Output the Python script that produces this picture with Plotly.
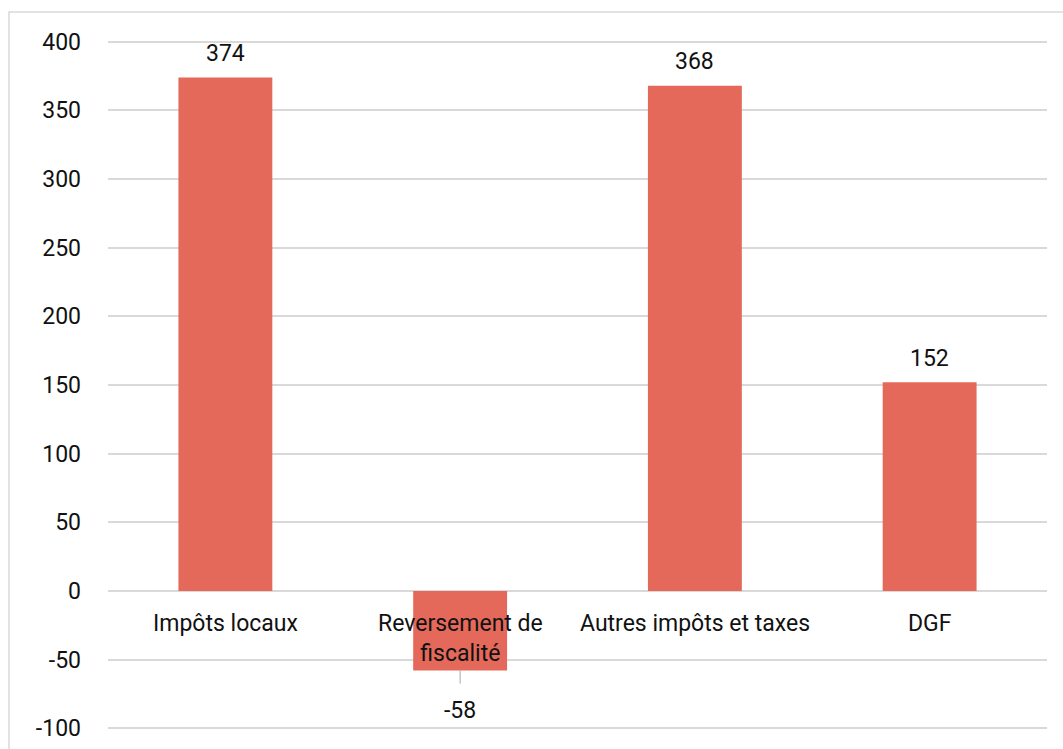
import plotly.graph_objects as go

categories = ["Impôts locaux", "Reversement de<br>fiscalité", "Autres impôts et taxes", "DGF"]
values = [374, -58, 368, 152]
y_ticks = [-100, -50, 0, 50, 100, 150, 200, 250, 300, 350, 400]
y_tick_labels = [str(v) for v in y_ticks]

FONT = "Roboto"
BAR = "#E5695A"
GRID = "#D9D9D9"
TXT = "#111111"
FS = 23

x_idx = list(range(len(categories)))

fig = go.Figure()
fig.add_trace(go.Bar(x=x_idx, y=values, marker=dict(color=BAR, line=dict(width=0)),
                     width=0.4, hoverinfo="skip"))

annotations = []
for i, (c, v) in enumerate(zip(categories, values)):
    annotations.append(dict(x=i, y=0, xref="x", yref="y", text=c, showarrow=False,
                            yanchor="top", yshift=-17,
                            font=dict(family=FONT, size=FS, color=TXT)))
    if v >= 0:
        annotations.append(dict(x=i, y=v, xref="x", yref="y", text=str(v), showarrow=False,
                                yanchor="middle", yshift=24,
                                font=dict(family=FONT, size=FS, color=TXT)))
    else:
        annotations.append(dict(x=i, y=v, xref="x", yref="y", text=str(v), showarrow=True,
                                arrowhead=0, arrowwidth=1, arrowcolor="#A6A6A6",
                                ax=0, ay=40, startstandoff=12,
                                font=dict(family=FONT, size=FS, color=TXT)))

fig.update_layout(
    width=1063, height=749,
    margin=dict(l=108, r=16, t=39, b=18, autoexpand=False),
    paper_bgcolor="white", plot_bgcolor="white",
    showlegend=False,
    bargap=0.6,
    xaxis=dict(range=[-0.5, 3.5], showticklabels=False, showgrid=False, zeroline=False,
               showline=False, fixedrange=True, automargin=False),
    yaxis=dict(range=[-102, 402], tickvals=y_ticks, ticktext=y_tick_labels,
               showgrid=True, gridcolor=GRID, gridwidth=1.5,
               zeroline=True, zerolinecolor=GRID, zerolinewidth=1.5, showline=False,
               ticks="", ticklabelstandoff=26, automargin=False,
               tickfont=dict(family=FONT, size=FS, color=TXT)),
    annotations=annotations,
    shapes=[dict(type="rect", xref="paper", yref="paper",
                 x0=(9 - 108) / 939, x1=1.1, y0=-0.1, y1=1 + 27 / 692,
                 line=dict(color=GRID, width=1.5), fillcolor="rgba(0,0,0,0)", layer="below")],
)

fig.write_html("out.html")
